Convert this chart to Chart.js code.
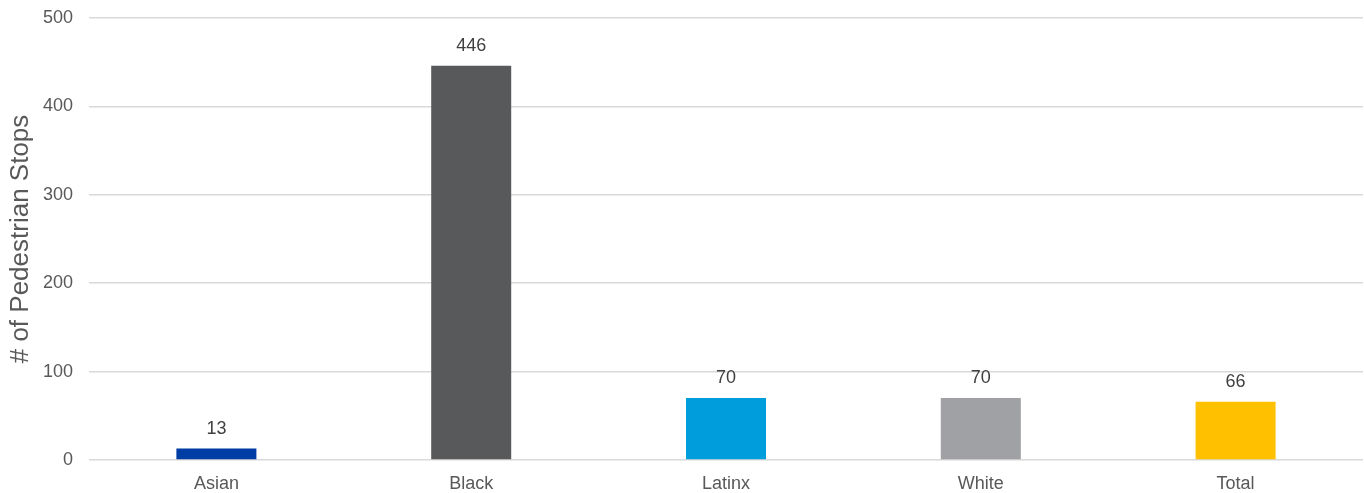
<!DOCTYPE html>
<html>
<head>
<meta charset="utf-8">
<script src="https://cdn.jsdelivr.net/npm/chart.js@4"></script>
<style>
  html, body { margin: 0; padding: 0; background: #fff; }
  #wrap { width: 1364px; height: 493px; }
</style>
</head>
<body>
<div id="wrap"><canvas id="stops"></canvas></div>
<script>
// Pedestrian stops by race
const categories = ['Asian', 'Black', 'Latinx', 'White', 'Total'];
const stops = [13, 446, 70, 70, 66];
const barColors = ['#003DA5', '#58595B', '#009DDC', '#A0A1A4', '#FFC000'];
const yTicks = [0, 100, 200, 300, 400, 500];

const FONT = '"Liberation Sans", Arial, sans-serif';

// value labels above each bar
const barValues = {
    id: 'barValues',
    afterDatasetsDraw(chart) {
        const ctx = chart.ctx;
        const meta = chart.getDatasetMeta(0);
        ctx.save();
        ctx.font = '18px ' + FONT;
        ctx.fillStyle = '#404040';
        ctx.textAlign = 'center';
        ctx.textBaseline = 'alphabetic';
        meta.data.forEach((bar, i) => {
            ctx.fillText(stops[i], bar.x, bar.y - 15);
        });
        ctx.restore();
    }
};

new Chart(document.getElementById('stops'), {
    type: 'bar',
    data: {
        labels: categories,
        datasets: [{
            data: stops,
            backgroundColor: barColors,
            barPercentage: 0.314,
            categoryPercentage: 1
        }]
    },
    options: {
        responsive: true,
        maintainAspectRatio: false,
        animation: false,
        layout: { padding: { top: 18, right: 1 } },
        plugins: {
            legend: { display: false },
            tooltip: { enabled: false }
        },
        scales: {
            x: {
                grid: { display: false },
                border: { display: false },
                ticks: {
                    color: '#595959',
                    padding: 5,
                    font: { family: FONT, size: 18 }
                },
                afterFit(scale) { scale.height = 33; }
            },
            y: {
                min: 0,
                max: 500,
                afterBuildTicks(scale) { scale.ticks = yTicks.map(v => ({ value: v })); },
                grid: { color: '#D9D9D9', lineWidth: 1.5, drawTicks: false },
                border: { display: false },
                ticks: {
                    color: '#595959',
                    padding: 16,
                    font: { family: FONT, size: 18 }
                },
                title: {
                    display: true,
                    text: '# of Pedestrian Stops',
                    color: '#595959',
                    padding: { top: 5, bottom: 0 },
                    font: { family: FONT, size: 26 }
                },
                afterFit(scale) {
                    scale.width = 89;
                    scale.paddingTop = 0;
                    scale.paddingBottom = 0;
                }
            }
        }
    },
    plugins: [barValues]
});
</script>
</body>
</html>
